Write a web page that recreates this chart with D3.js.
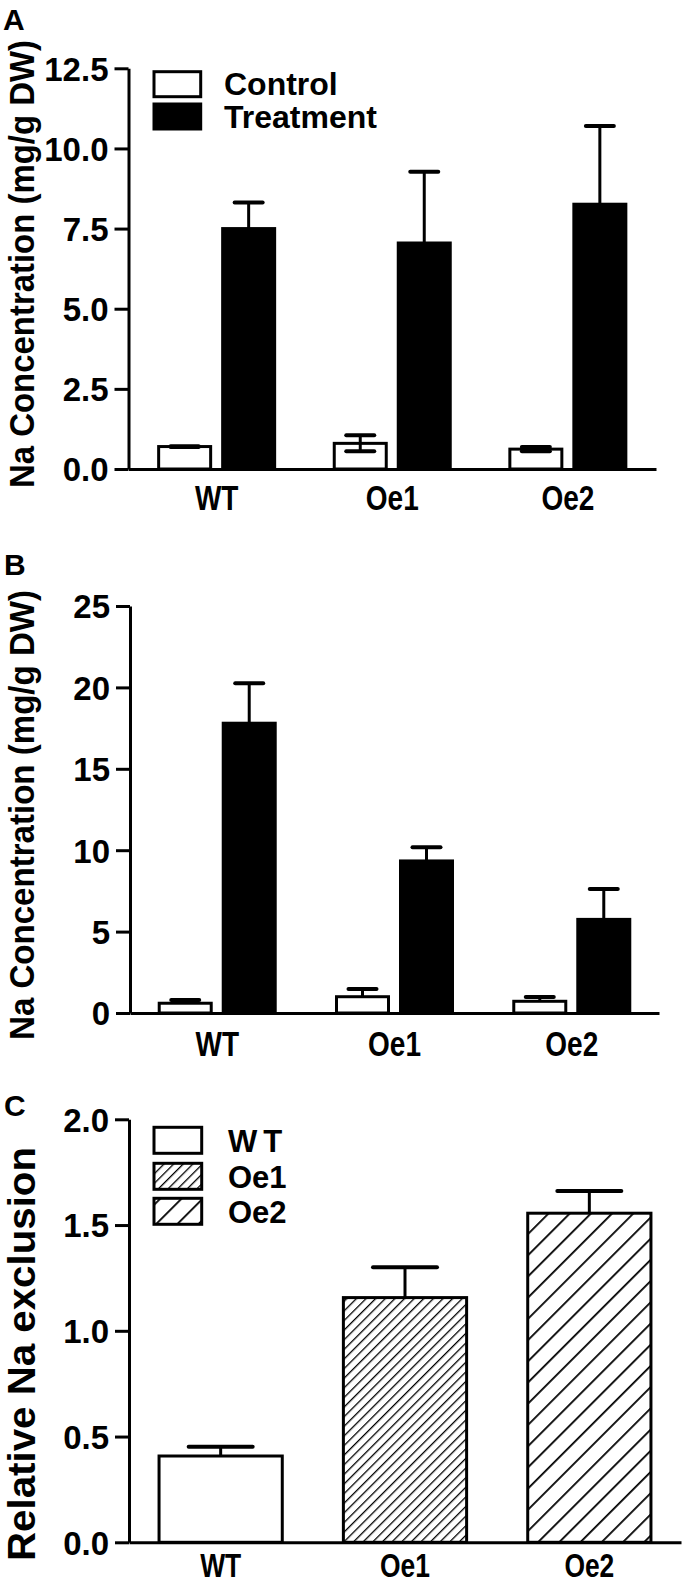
<!DOCTYPE html>
<html>
<head>
<meta charset="utf-8">
<script src="https://cdn.jsdelivr.net/npm/d3@7/dist/d3.min.js"></script>
<style>
  html, body { margin: 0; padding: 0; background: #fff; }
  svg { display: block; }
  text { font-family: "Liberation Sans", Arial, sans-serif; fill: #000; }
</style>
</head>
<body>
<svg id="chart" width="685" height="1584"></svg>
<script>
// ---------- data ----------
const genotypes = ["WT", "Oe1", "Oe2"];
const treatments = ["Control", "Treatment"];

// Panel A: Na concentration (mg/g DW)
const aControlMean   = [0.70, 0.80, 0.62];
const aControlSem    = [0.01, 0.25, 0.07];
const aTreatmentMean = [7.50, 7.05, 8.26];
const aTreatmentSem  = [0.81, 2.22, 2.44];
const aTicks = [0, 2.5, 5, 7.5, 10, 12.5];

// Panel B: Na concentration (mg/g DW)
const bControlMean   = [0.60, 1.00, 0.72];
const bControlSem    = [0.20, 0.47, 0.26];
const bTreatmentMean = [17.80, 9.34, 5.75];
const bTreatmentSem  = [2.45, 0.84, 1.87];
const bTicks = [0, 5, 10, 15, 20, 25];

// Panel C: relative Na exclusion
const cMean = [0.408, 1.157, 1.556];
const cSem  = [0.044, 0.143, 0.105];
const cTicks = [0, 0.5, 1.0, 1.5, 2.0];

// ---------- drawing ----------
const svg = d3.select("#chart");
const defs = svg.append("defs");
const FONT = '"Liberation Sans", Arial, sans-serif';

function hatch(id, spacing, width) {
  const p = defs.append("pattern").attr("id", id)
    .attr("patternUnits", "userSpaceOnUse")
    .attr("width", spacing).attr("height", spacing)
    .attr("patternTransform", "rotate(45)");
  p.append("rect").attr("width", spacing).attr("height", spacing).attr("fill", "#fff");
  p.append("line").attr("x1", 0).attr("y1", -1).attr("x2", 0).attr("y2", spacing + 1)
    .attr("stroke", "#000").attr("stroke-width", width);
}
hatch("hatchFine", 6.8, 2.6);
hatch("hatchWide", 15, 3.6);

function styleAxis(g) {
  g.selectAll("path.domain").attr("stroke", "#000").attr("stroke-width", 3);
  g.selectAll(".tick line").attr("stroke", "#000").attr("stroke-width", 3);
  g.selectAll("text").attr("font-family", FONT).attr("font-weight", "bold").attr("fill", "#000");
}

function yAxis(y, ticks, fmt, x0, fontSize) {
  const g = svg.append("g").attr("transform", `translate(${x0},0)`)
    .call(d3.axisLeft(y).tickValues(ticks).tickFormat(fmt).tickSize(14).tickSizeOuter(0).tickPadding(6));
  styleAxis(g);
  g.selectAll("text").attr("font-size", fontSize).attr("dy", "0.36em");
  return g;
}

function xAxis(x, yBase, fontSize, baselineOffset) {
  const pad = baselineOffset - 0.71 * fontSize;
  const g = svg.append("g").attr("transform", `translate(0,${yBase})`)
    .call(d3.axisBottom(x).tickSize(0).tickSizeOuter(0).tickPadding(pad));
  styleAxis(g);
  g.selectAll("text").attr("font-size", fontSize).attr("transform", "scale(0.8,1)");
  return g;
}

function yTitle(text, cx, cy, size, len, stretch) {
  svg.append("text")
    .attr("transform", `translate(${cx},${cy}) rotate(-90) scale(1,${stretch})`)
    .attr("text-anchor", "middle")
    .attr("font-size", size).attr("font-weight", "bold")
    .attr("textLength", len).attr("lengthAdjust", "spacingAndGlyphs")
    .text(text);
}

function panelLetter(t, x, y) {
  svg.append("text").attr("x", x).attr("y", y).attr("font-size", 30).attr("font-weight", "bold").text(t);
}

// grouped panel (A, B)
function groupedPanel(cfg) {
  const x = d3.scaleBand().domain(genotypes).range([cfg.x0, cfg.x1])
    .paddingInner(cfg.pi).paddingOuter(cfg.po);
  const bw = x.bandwidth();
  const sub = d3.scaleBand().domain(treatments)
    .range([bw / 2 - 58, bw / 2 + 58]).paddingInner(12 / 64).paddingOuter(0);
  const y = d3.scaleLinear().domain([0, cfg.ticks[cfg.ticks.length - 1]]).range([cfg.yBase, cfg.yTop]);

  const rows = [];
  genotypes.forEach((gname, i) => {
    rows.push({g: gname, t: "Control", m: cfg.cMean[i], s: cfg.cSem[i]});
    rows.push({g: gname, t: "Treatment", m: cfg.tMean[i], s: cfg.tSem[i]});
  });

  const gBars = svg.append("g");
  rows.forEach(d => {
    const bx = x(d.g) + sub(d.t);
    const cx = bx + sub.bandwidth() / 2;
    gBars.append("rect")
      .attr("x", bx).attr("y", y(d.m)).attr("width", sub.bandwidth()).attr("height", y(0) - y(d.m))
      .attr("fill", d.t === "Control" ? "#fff" : "#000")
      .attr("stroke", "#000").attr("stroke-width", 3);
    const eb = gBars.append("g");
    eb.append("line").attr("x1", cx).attr("x2", cx)
      .attr("y1", y(d.m + d.s)).attr("y2", cfg.both ? y(Math.max(0, d.m - d.s)) : y(d.m))
      .attr("stroke", "#000").attr("stroke-width", 3);
    eb.append("line").attr("x1", cx - 14).attr("x2", cx + 14)
      .attr("y1", y(d.m + d.s)).attr("y2", y(d.m + d.s))
      .attr("stroke", "#000").attr("stroke-width", 4).attr("stroke-linecap", "round");
    if (cfg.both) {
      eb.append("line").attr("x1", cx - 14).attr("x2", cx + 14)
        .attr("y1", y(d.m - d.s)).attr("y2", y(d.m - d.s))
        .attr("stroke", "#000").attr("stroke-width", 4).attr("stroke-linecap", "round");
    }
  });

  xAxis(x, cfg.yBase, 35, cfg.labelOffset);
  yAxis(y, cfg.ticks, cfg.fmt, cfg.x0, 33);
}

// Panel A
groupedPanel({
  x0: 128.5, x1: 656, pi: 0.3, po: 0.152,
  yBase: 469, yTop: 68.3, ticks: aTicks, fmt: d3.format(".1f"), labelOffset: 41,
  cMean: aControlMean, cSem: aControlSem, tMean: aTreatmentMean, tSem: aTreatmentSem, both: true
});
// Panel B
groupedPanel({
  x0: 130, x1: 659, pi: 0.3, po: 0.142,
  yBase: 1013, yTop: 606, ticks: bTicks, fmt: d3.format("d"), labelOffset: 43,
  cMean: bControlMean, cSem: bControlSem, tMean: bTreatmentMean, tSem: bTreatmentSem, both: false
});

// Legend A
const legA = svg.append("g");
treatments.forEach((t, i) => {
  legA.append("rect").attr("x", 154).attr("y", 71.7 + i * 32.3).attr("width", 46.7).attr("height", 25)
    .attr("fill", i === 0 ? "#fff" : "#000").attr("stroke", "#000").attr("stroke-width", 3);
  legA.append("text").attr("x", 224).attr("y", 95 + i * 33.3).attr("font-size", 32)
    .attr("font-weight", "bold").text(t);
});

// Panel C
(function() {
  const x = d3.scaleBand().domain(genotypes).range([129, 681]).paddingInner(0.3315).paddingOuter(0.163);
  const y = d3.scaleLinear().domain([0, 2]).range([1542.3, 1119.3]);
  const fills = {"WT": "#fff", "Oe1": "url(#hatchFine)", "Oe2": "url(#hatchWide)"};
  const g = svg.append("g");
  genotypes.forEach((gn, i) => {
    const bx = x(gn), w = x.bandwidth(), cx = bx + w / 2;
    g.append("rect").attr("x", bx).attr("y", y(cMean[i])).attr("width", w).attr("height", y(0) - y(cMean[i]))
      .attr("fill", fills[gn]).attr("stroke", "#000").attr("stroke-width", 3);
    g.append("line").attr("x1", cx).attr("x2", cx).attr("y1", y(cMean[i] + cSem[i])).attr("y2", y(cMean[i]))
      .attr("stroke", "#000").attr("stroke-width", 3);
    g.append("line").attr("x1", cx - 32).attr("x2", cx + 32)
      .attr("y1", y(cMean[i] + cSem[i])).attr("y2", y(cMean[i] + cSem[i]))
      .attr("stroke", "#000").attr("stroke-width", 4).attr("stroke-linecap", "round");
  });
  xAxis(x, 1542.3, 33, 34.5);
  yAxis(y, cTicks, d3.format(".1f"), 129, 33);

  const leg = svg.append("g");
  const ly = [1127.3, 1163.3, 1198.3];
  genotypes.forEach((gn, i) => {
    leg.append("rect").attr("x", 154).attr("y", ly[i]).attr("width", 47.7).attr("height", 26)
      .attr("fill", fills[gn]).attr("stroke", "#000").attr("stroke-width", 3);
    leg.append("text").attr("x", 228).attr("y", ly[i] + 25).attr("font-size", 31)
      .attr("font-weight", "bold")
      .attr("letter-spacing", gn === "WT" ? 6 : 0).text(gn);
  });
})();

// titles & letters
yTitle("Na Concentration (mg/g DW)", 34, 264, 33, 448, 1.09);
yTitle("Na Concentration (mg/g DW)", 34, 815, 33, 450, 1.09);
yTitle("Relative Na exclusion", 35, 1354, 39, 414, 1);
panelLetter("A", 3, 30);
panelLetter("B", 4, 575);
panelLetter("C", 4, 1116);
</script>
</body>
</html>
